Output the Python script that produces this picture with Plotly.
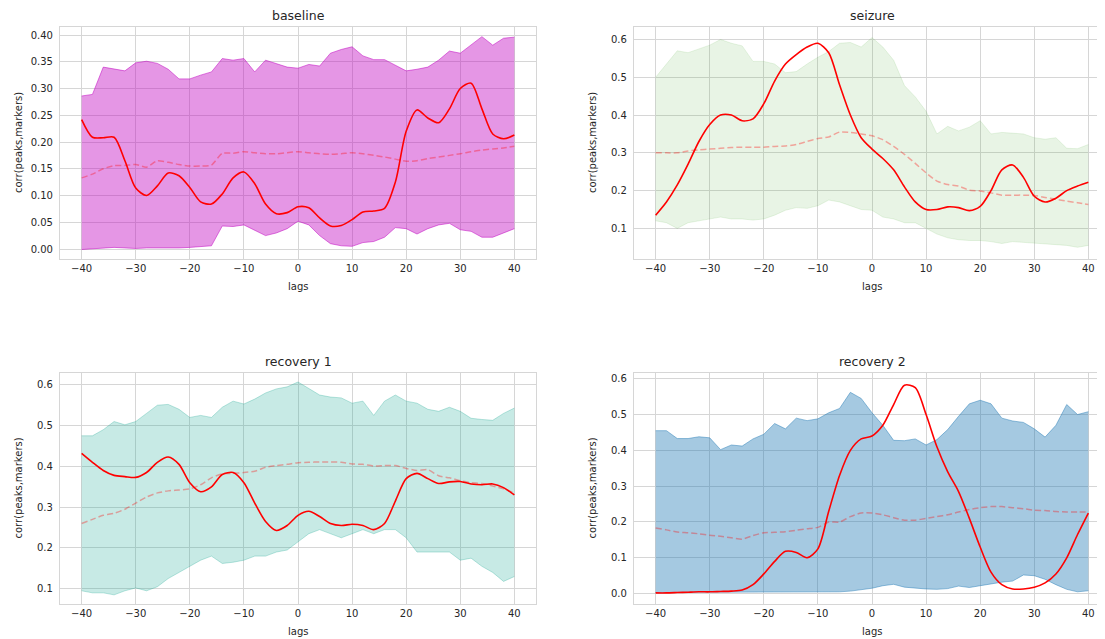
import plotly.graph_objects as go

# lags sampled every 2
lags = list(range(-40, 41, 2))

# baseline
baseline_corr = [0.242, 0.209, 0.208, 0.209, 0.165, 0.114, 0.100, 0.118, 0.142, 0.137,
                 0.115, 0.088, 0.084, 0.103, 0.133, 0.144, 0.122, 0.084, 0.066, 0.068,
                 0.079, 0.077, 0.058, 0.043, 0.044, 0.055, 0.069, 0.071, 0.076, 0.125,
                 0.220, 0.260, 0.245, 0.236, 0.262, 0.300, 0.310, 0.262, 0.215, 0.206, 0.213]
baseline_avg = [0.133, 0.140, 0.150, 0.156, 0.156, 0.158, 0.153, 0.165, 0.162, 0.158,
                0.155, 0.155, 0.157, 0.179, 0.179, 0.182, 0.180, 0.178, 0.178, 0.180,
                0.182, 0.180, 0.178, 0.177, 0.178, 0.180, 0.178, 0.175, 0.172, 0.168,
                0.164, 0.165, 0.169, 0.172, 0.175, 0.178, 0.182, 0.185, 0.187, 0.189, 0.192]
baseline_hi = [0.286, 0.289, 0.340, 0.336, 0.333, 0.348, 0.351, 0.347, 0.336, 0.318,
               0.318, 0.325, 0.331, 0.356, 0.353, 0.356, 0.331, 0.353, 0.347, 0.340,
               0.338, 0.345, 0.342, 0.366, 0.373, 0.378, 0.361, 0.354, 0.354, 0.344,
               0.333, 0.336, 0.340, 0.353, 0.370, 0.366, 0.381, 0.397, 0.381, 0.394, 0.396]
baseline_lo = [-0.001, 0.000, 0.002, 0.003, 0.002, 0.001, 0.002, 0.002, 0.001, 0.002,
               0.003, 0.004, 0.006, 0.043, 0.042, 0.045, 0.035, 0.025, 0.030, 0.038,
               0.052, 0.045, 0.025, 0.010, 0.006, 0.005, 0.012, 0.014, 0.022, 0.040,
               0.038, 0.028, 0.038, 0.045, 0.048, 0.036, 0.033, 0.022, 0.022, 0.030, 0.038]

# seizure
seizure_corr = [0.135, 0.170, 0.215, 0.270, 0.330, 0.375, 0.400, 0.400, 0.385, 0.390,
                0.430, 0.490, 0.535, 0.560, 0.580, 0.590, 0.565, 0.480, 0.400, 0.340,
                0.310, 0.285, 0.255, 0.210, 0.170, 0.150, 0.150, 0.157, 0.155, 0.147,
                0.158, 0.200, 0.255, 0.268, 0.235, 0.185, 0.170, 0.180, 0.200, 0.212, 0.222]
seizure_avg = [0.300, 0.300, 0.300, 0.305, 0.308, 0.310, 0.312, 0.314, 0.315, 0.315,
               0.315, 0.317, 0.318, 0.322, 0.330, 0.338, 0.342, 0.355, 0.354, 0.350,
               0.345, 0.335, 0.317, 0.296, 0.272, 0.247, 0.225, 0.216, 0.212, 0.201,
               0.199, 0.194, 0.188, 0.188, 0.188, 0.187, 0.182, 0.177, 0.172, 0.168, 0.163]
seizure_hi = [0.500, 0.535, 0.570, 0.565, 0.575, 0.585, 0.600, 0.590, 0.583, 0.542,
              0.542, 0.535, 0.512, 0.515, 0.535, 0.553, 0.568, 0.590, 0.592, 0.580,
              0.605, 0.580, 0.545, 0.478, 0.448, 0.410, 0.350, 0.370, 0.358, 0.368,
              0.385, 0.350, 0.354, 0.352, 0.350, 0.340, 0.336, 0.340, 0.312, 0.311, 0.322]
seizure_lo = [0.120, 0.115, 0.100, 0.115, 0.120, 0.125, 0.130, 0.125, 0.125, 0.122,
              0.125, 0.135, 0.148, 0.155, 0.153, 0.160, 0.175, 0.170, 0.160, 0.150,
              0.148, 0.130, 0.125, 0.115, 0.115, 0.100, 0.085, 0.075, 0.070, 0.068,
              0.068, 0.065, 0.060, 0.065, 0.063, 0.060, 0.058, 0.057, 0.055, 0.050, 0.055]

# recovery 1
rec1_corr = [0.432, 0.410, 0.390, 0.378, 0.375, 0.373, 0.385, 0.410, 0.423, 0.405,
             0.360, 0.338, 0.350, 0.380, 0.385, 0.360, 0.310, 0.265, 0.243, 0.255,
             0.280, 0.290, 0.277, 0.260, 0.255, 0.258, 0.255, 0.245, 0.260, 0.315,
             0.370, 0.383, 0.370, 0.358, 0.362, 0.363, 0.357, 0.355, 0.357, 0.348, 0.330]
rec1_avg = [0.260, 0.270, 0.280, 0.285, 0.295, 0.310, 0.325, 0.335, 0.340, 0.342,
            0.345, 0.355, 0.372, 0.382, 0.383, 0.385, 0.388, 0.398, 0.402, 0.405,
            0.409, 0.410, 0.411, 0.411, 0.410, 0.406, 0.405, 0.401, 0.402, 0.402,
            0.395, 0.390, 0.392, 0.377, 0.372, 0.365, 0.360, 0.358, 0.352, 0.345, 0.335]
rec1_hi = [0.475, 0.475, 0.490, 0.510, 0.502, 0.510, 0.530, 0.550, 0.552, 0.540,
           0.520, 0.525, 0.520, 0.545, 0.560, 0.553, 0.565, 0.580, 0.590, 0.595,
           0.607, 0.590, 0.575, 0.570, 0.568, 0.555, 0.560, 0.525, 0.560, 0.575,
           0.560, 0.555, 0.540, 0.535, 0.545, 0.535, 0.518, 0.515, 0.513, 0.530, 0.543]
rec1_lo = [0.095, 0.090, 0.090, 0.085, 0.095, 0.102, 0.095, 0.105, 0.125, 0.140,
           0.155, 0.170, 0.180, 0.162, 0.165, 0.170, 0.180, 0.180, 0.190, 0.195,
           0.215, 0.235, 0.245, 0.235, 0.225, 0.235, 0.245, 0.235, 0.245, 0.245,
           0.225, 0.190, 0.190, 0.190, 0.190, 0.170, 0.175, 0.155, 0.140, 0.118, 0.130]

# recovery 2
rec2_corr = [0.002, 0.002, 0.003, 0.004, 0.005, 0.005, 0.006, 0.007, 0.010, 0.025,
             0.055, 0.090, 0.118, 0.115, 0.100, 0.125, 0.230, 0.330, 0.400, 0.432,
             0.440, 0.470, 0.528, 0.582, 0.575, 0.500, 0.410, 0.340, 0.285, 0.210,
             0.130, 0.060, 0.025, 0.013, 0.013, 0.018, 0.030, 0.055, 0.100, 0.165, 0.225]
rec2_avg = [0.183, 0.178, 0.172, 0.170, 0.167, 0.163, 0.160, 0.156, 0.152, 0.162,
            0.170, 0.171, 0.173, 0.177, 0.181, 0.185, 0.200, 0.200, 0.215, 0.225,
            0.225, 0.220, 0.212, 0.205, 0.205, 0.210, 0.215, 0.220, 0.228, 0.235,
            0.240, 0.243, 0.243, 0.240, 0.237, 0.233, 0.232, 0.229, 0.228, 0.228, 0.228]
rec2_hi = [0.455, 0.455, 0.433, 0.433, 0.438, 0.435, 0.402, 0.415, 0.412, 0.432,
           0.445, 0.475, 0.460, 0.490, 0.483, 0.488, 0.505, 0.517, 0.562, 0.545,
           0.505, 0.470, 0.428, 0.427, 0.432, 0.415, 0.430, 0.458, 0.495, 0.530,
           0.540, 0.530, 0.490, 0.482, 0.478, 0.460, 0.437, 0.470, 0.528, 0.500, 0.508]
rec2_lo = [0.002, 0.003, 0.003, 0.003, 0.004, 0.004, 0.004, 0.004, 0.004, 0.005,
           0.005, 0.005, 0.004, 0.004, 0.005, 0.005, 0.005, 0.005, 0.007, 0.010,
           0.015, 0.022, 0.026, 0.018, 0.015, 0.013, 0.012, 0.014, 0.021, 0.017,
           0.022, 0.028, 0.032, 0.035, 0.052, 0.050, 0.040, 0.025, 0.012, 0.005, 0.008]

# the page body has an 8px margin, so the figure is drawn from (8, 8)
OFF = 8
W, H = 1105 - OFF, 639 - OFF
FONT = 'DejaVu Sans'
TXT = '#262626'
GRID = '#d6d6d6'


def px(x):
    return (x - OFF) / W


def py(y):
    return 1 - (y - OFF) / H


# (title, corr, avg, hi, lo, fill colour, edge colour, axis suffix, x px, y px, y range, y tickformat, y dtick)
panels = [
    ('baseline', baseline_corr, baseline_avg, baseline_hi, baseline_lo,
     'rgba(191,0,191,0.41)', 'rgba(191,0,191,0.5)', '', (60, 536), (27, 259), [-0.0187, 0.415], '.2f', 0.05),
    ('seizure', seizure_corr, seizure_avg, seizure_hi, seizure_lo,
     'rgba(90,180,70,0.14)', 'rgba(90,180,70,0.14)', '2', (634, 1105), (27, 259), [0.019, 0.633], '.1f', 0.1),
    ('recovery 1', rec1_corr, rec1_avg, rec1_hi, rec1_lo,
     'rgba(32,170,150,0.25)', 'rgba(32,170,150,0.3)', '3', (60, 536), (373, 604), [0.0626, 0.629], '.1f', 0.1),
    ('recovery 2', rec2_corr, rec2_avg, rec2_hi, rec2_lo,
     'rgba(31,119,180,0.4)', 'rgba(31,119,180,0.45)', '4', (634, 1105), (373, 604), [-0.029, 0.616], '.1f', 0.1),
]

fig = go.Figure()
annotations = []
for title, corr, avg, hi, lo, fill, edge, ax, (x0, x1), (y0, y1), yr, yfmt, ydt in panels:
    xa, ya = 'x' + ax, 'y' + ax
    fig.add_trace(go.Scatter(x=lags, y=lo, mode='lines', line=dict(color=edge, width=1),
                             xaxis=xa, yaxis=ya, showlegend=False, hoverinfo='skip'))
    fig.add_trace(go.Scatter(x=lags, y=hi, mode='lines', line=dict(color=edge, width=1),
                             fill='tonexty', fillcolor=fill,
                             xaxis=xa, yaxis=ya, showlegend=False, hoverinfo='skip'))
    fig.add_trace(go.Scatter(x=lags, y=avg, mode='lines',
                             line=dict(color='rgba(255,0,0,0.33)', width=1.5, dash='6px,3px', shape='spline', smoothing=0.6),
                             xaxis=xa, yaxis=ya, showlegend=False))
    fig.add_trace(go.Scatter(x=lags, y=corr, mode='lines',
                             line=dict(color='#ff0000', width=1.6, shape='spline', smoothing=0.8),
                             xaxis=xa, yaxis=ya, showlegend=False))

    # same px per lag unit in every panel (476 px for 88 units)
    xrange = [-44, -44 + (x1 - x0) * 88 / 476]
    axis_common = dict(showgrid=True, gridcolor=GRID, gridwidth=1, zeroline=False,
                       showline=True, linecolor=GRID, linewidth=1.2, mirror=True,
                       ticks='', tickfont=dict(family=FONT, size=10, color=TXT))
    fig.layout['xaxis' + ax] = dict(axis_common, domain=[px(x0), px(x1)], range=xrange,
                                    tickmode='linear', tick0=-40, dtick=10, anchor=ya)
    fig.layout['yaxis' + ax] = dict(axis_common, domain=[py(y1), py(y0)], range=yr,
                                    tickmode='linear', tick0=0, dtick=ydt, tickformat=yfmt,
                                    anchor=xa, ticklabelstandoff=4)

    xc = px(x0 + 238)
    annotations.append(dict(text=title, x=xc, y=py(y0 - 12), xref='paper', yref='paper',
                            xanchor='center', yanchor='middle', showarrow=False,
                            font=dict(family=FONT, size=12.5, color=TXT)))
    annotations.append(dict(text='lags', x=xc, y=py(y1 + 27), xref='paper', yref='paper',
                            xanchor='center', yanchor='middle', showarrow=False,
                            font=dict(family=FONT, size=10, color=TXT)))
    annotations.append(dict(text='corr(peaks,markers)', x=px(x0 - 42), y=py((y0 + y1) / 2),
                            xref='paper', yref='paper', xanchor='center', yanchor='middle',
                            textangle=-90, showarrow=False,
                            font=dict(family=FONT, size=10, color=TXT)))

fig.update_layout(width=W, height=H, margin=dict(l=0, r=0, t=0, b=0),
                  paper_bgcolor='white', plot_bgcolor='white',
                  annotations=annotations, showlegend=False)

fig.write_html('out.html')
